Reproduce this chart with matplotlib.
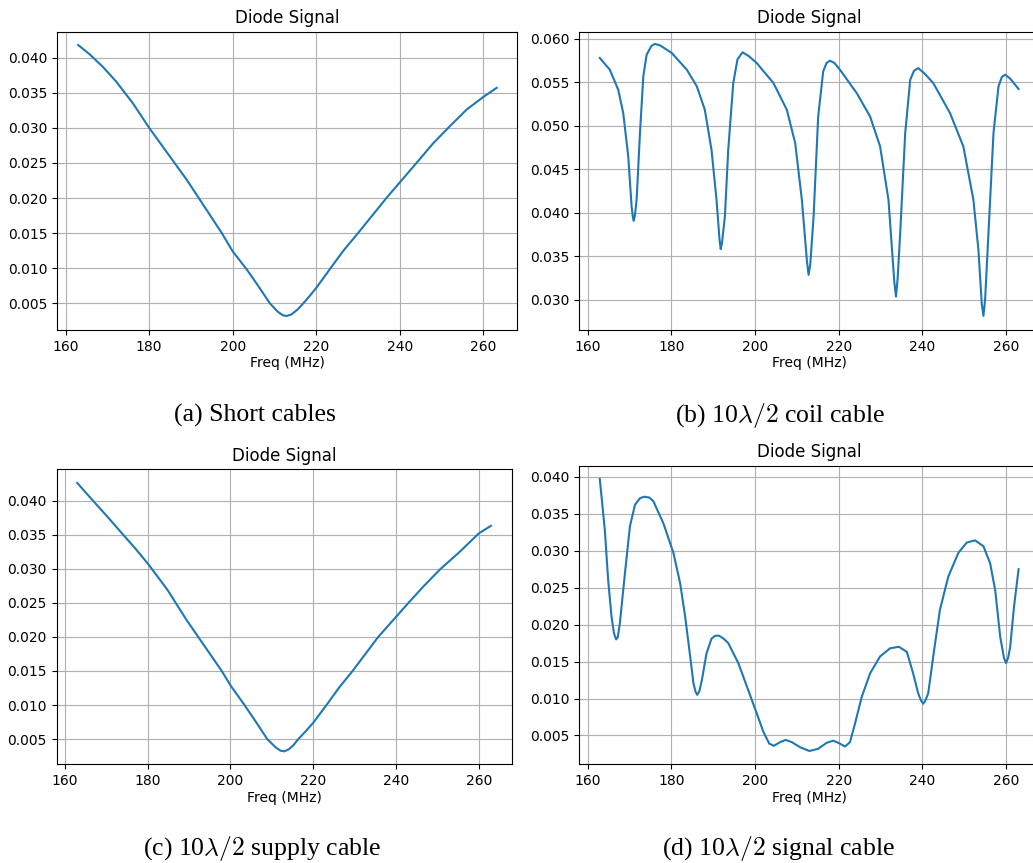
import matplotlib
matplotlib.use("Agg")
from matplotlib import pyplot as plt
import numpy as np

# (a) short cables
freq_a = [163, 165.7, 168.9, 172.1, 176.1, 180, 184.5, 189.0, 193.2, 197.4, 200, 203.4,
          206.2, 208.9, 210.8, 212.0, 212.9, 214.0, 215.5, 216.9, 218.5, 220, 223.3, 226.5,
          230, 236.8, 240.4, 244, 248, 251.6, 256, 260, 263.2]
sig_a = [0.0418, 0.0405, 0.0387, 0.0366, 0.0335, 0.0300, 0.0263, 0.0226, 0.0188, 0.0150,
         0.0124, 0.0098, 0.0074, 0.0050, 0.0038, 0.0033, 0.0032, 0.0034, 0.0041, 0.0050,
         0.0061, 0.0072, 0.0099, 0.0125, 0.0150, 0.0200, 0.0225, 0.0250, 0.0278, 0.0300,
         0.0326, 0.0344, 0.0357]

# (b) 10 lambda/2 coil cable
freq_b = [162.9, 165.3, 167.3, 168.5, 169.7, 170.5, 170.8, 171.0, 171.3, 171.7, 172.5, 173.3,
          174.1, 175.3, 176.1, 177.3, 178.9,
          180.1, 183.7, 186.1, 188.0, 189.6, 190.8, 191.5, 191.8, 192.1, 192.8, 193.6, 194.8,
          195.8, 197.0, 198.5,
          200.4, 204.4, 207.6, 209.6, 211.2, 212.4, 212.8, 213.2, 214.0, 215.1, 216.3, 217.1,
          217.9, 219.0,
          220.3, 224.3, 227.5, 229.9, 231.9, 233.3, 233.7, 234.1, 234.7, 235.9, 237.1, 238.0,
          239.0, 240.5,
          242.6, 246.6, 249.8, 252.2, 253.4, 254.2, 254.6, 255.0, 255.8, 257.0, 258.2, 259.0,
          259.8, 261.0, 263.0]
sig_b = [0.05778, 0.05643, 0.05413, 0.05145, 0.04646, 0.04070, 0.03950, 0.03906, 0.03970,
         0.04147, 0.04914, 0.05567, 0.05816, 0.05920, 0.05939, 0.05923, 0.05873,
         0.05835, 0.05643, 0.05451, 0.05183, 0.04723, 0.04147, 0.03700, 0.03580, 0.03650,
         0.03956, 0.04723, 0.05490, 0.05760, 0.05843, 0.05800,
         0.05720, 0.05490, 0.05183, 0.04800, 0.04147, 0.03450, 0.03284, 0.03400, 0.03956,
         0.05106, 0.05624, 0.05720, 0.05747, 0.05720,
         0.05643, 0.05375, 0.05106, 0.04761, 0.04147, 0.03200, 0.03035, 0.03250, 0.03764,
         0.04914, 0.05528, 0.05630, 0.05662, 0.05600,
         0.05490, 0.05145, 0.04761, 0.04147, 0.03572, 0.02950, 0.02812, 0.03000, 0.03764,
         0.04914, 0.05451, 0.05560, 0.05586, 0.05540, 0.05421]

# (c) 10 lambda/2 supply cable
freq_c = [163.0, 166.8, 170.5, 174.1, 177.0, 180.0, 181.0, 184.8, 189.5, 193.7, 197.9, 200.0,
          203.4, 206.3, 208.9, 210.9, 212.1, 213.0, 214.1, 215.2, 216.4, 218.1, 220.0, 223.2,
          226.3, 229.5, 235.7, 243.0, 246.6, 250.6, 255.4, 260.0, 262.9]
sig_c = [0.0426, 0.0400, 0.0375, 0.0350, 0.0330, 0.0308, 0.0300, 0.0269, 0.0224, 0.0187,
         0.0150, 0.0129, 0.0100, 0.0074, 0.0050, 0.0038, 0.0033, 0.0032, 0.0035, 0.0041,
         0.0050, 0.0061, 0.0074, 0.0100, 0.0126, 0.0150, 0.0200, 0.0250, 0.0274, 0.0299,
         0.0325, 0.0352, 0.0363]

# (d) 10 lambda/2 signal cable
freq_d = [162.9, 164.1, 164.9, 165.7, 166.3, 166.8, 167.2, 167.7, 168.9, 170.1, 171.3, 172.5,
          173.5, 174.7, 175.7, 178.1, 180.5, 182.1, 183.3, 184.5, 185.3, 185.8, 186.2, 186.7,
          187.3, 188.4, 189.6, 190.5, 191.4, 192.5, 193.6, 196.0, 198.4, 200.4, 202.0, 203.4,
          204.5, 206.0, 207.3, 208.8, 210.8, 213.0, 215.1, 217.1, 218.7, 220.3, 221.5, 222.7,
          223.9, 225.5, 227.5, 229.9, 232.3, 234.4, 236.3, 237.8, 239.0, 239.7, 240.2, 240.7,
          241.4, 242.6, 244.2, 246.2, 248.6, 250.6, 252.6, 254.6, 256.2, 257.4, 258.6, 259.5,
          260.0, 260.5, 261.0, 261.9, 263.0]
sig_d = [0.0397, 0.0328, 0.0260, 0.0211, 0.0188, 0.0180, 0.0183, 0.0202, 0.0269, 0.0333,
         0.0362, 0.0371, 0.0373, 0.0372, 0.0367, 0.0337, 0.0297, 0.0256, 0.0211, 0.0157,
         0.0120, 0.0109, 0.0105, 0.0110, 0.0125, 0.0161, 0.0181, 0.0185, 0.0185, 0.0181,
         0.0175, 0.0148, 0.0111, 0.0080, 0.0055, 0.0039, 0.0036, 0.0041, 0.0044, 0.0041,
         0.0034, 0.0029, 0.0032, 0.0040, 0.0043, 0.0039, 0.0035, 0.0041, 0.0066, 0.0102,
         0.0134, 0.0157, 0.0168, 0.0170, 0.0163, 0.0134, 0.0107, 0.0097, 0.0093, 0.0097,
         0.0107, 0.0157, 0.0220, 0.0265, 0.0297, 0.0311, 0.0314, 0.0306, 0.0283, 0.0247,
         0.0184, 0.0155, 0.0148, 0.0155, 0.0170, 0.0224, 0.0275]

captions = ["(a) Short cables", r"(b) 10$\lambda/2$ coil cable",
            r"(c) 10$\lambda/2$ supply cable", r"(d) 10$\lambda/2$ signal cable"]

W, H = 1033, 863
fig = plt.figure(figsize=(W / 100, H / 100), dpi=100)
plt.rcParams['mathtext.fontset'] = 'cm'

# axes boxes in pixels: left, right, top, bottom
boxes = [(57.3, 516.7, 31.7, 330.0),
         (579.3, 1039.5, 31.7, 330.0),
         (56.5, 512.0, 469.3, 764.3),
         (579.3, 1039.5, 465.7, 764.3)]
ylims = [(0.0012, 0.0437), (0.0265, 0.0608), (0.0013, 0.0446), (0.0011, 0.0415)]
data = [(freq_a, sig_a), (freq_b, sig_b), (freq_c, sig_c), (freq_d, sig_d)]
cap_pos = [(255, 421.5), (780, 422), (262, 855), (778, 855)]

for (l, r, t, b), yl, (x, y), cap, (cx, cy) in zip(boxes, ylims, data, captions, cap_pos):
    ax = fig.add_axes([l / W, 1 - b / H, (r - l) / W, (b - t) / H])
    ax.plot(x, y, color='#1f77b4', lw=1.5, solid_joinstyle='round')
    ax.set_xlim(158, 268)
    ax.set_ylim(*yl)
    ax.set_xticks([160, 180, 200, 220, 240, 260])
    ax.yaxis.set_major_formatter(matplotlib.ticker.FormatStrFormatter('%.3f'))
    ax.grid(True)
    ax.tick_params(labelsize=10)
    ax.set_title("Diode Signal", fontsize=12)
    ax.set_xlabel("Freq (MHz)", fontsize=10, labelpad=2)
    fig.text(cx / W, 1 - cy / H, cap, family='Liberation Serif', fontsize=18.5,
             ha='center', va='baseline')

fig.savefig("out.png", dpi=100)
